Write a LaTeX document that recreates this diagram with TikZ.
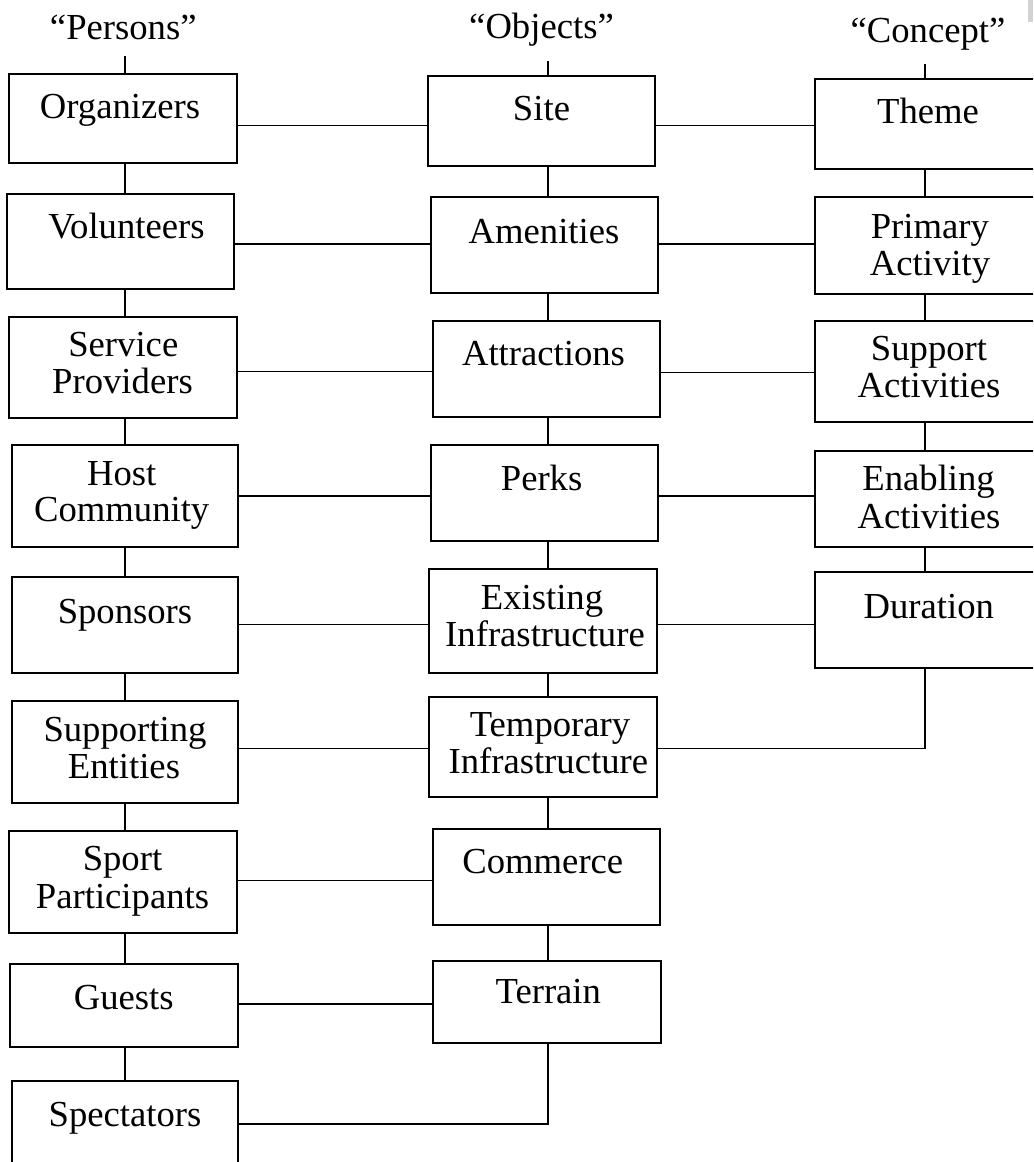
\documentclass[tikz,border=0pt]{standalone}
\usepackage{fontspec}
\setmainfont{Liberation Serif}
\usetikzlibrary{fit}
\tikzset{
  box/.style={draw, line width=1.4pt, rectangle, inner sep=0pt, outer sep=0pt},
  conn/.style={line width=0.8pt},
  lbl/.style={anchor=base, inner sep=0pt, outer sep=0pt, font=\fontsize{27.5}{30}\selectfont},
}
\newcommand\mkbox[5]{\node[box, fit={(#2,#3) (#4,#5)}] (#1) {};}
\newcommand\mktxt[4]{\node[lbl] (#1) at (#2,#3) {#4};}
\begin{document}
\begin{tikzpicture}[x=0.75pt, y=-0.75pt]
\clip (0,0) rectangle (1033,1162);
\fill[white] (0,0) rectangle (1033,1162);
\fill[gray!35] (1028,0) rectangle (1033,22);

% column guide coordinates
\coordinate (c1) at (125,0);
\coordinate (c2) at (548,0);
\coordinate (c3) at (925,0);
\coordinate (t1) at (125,55.7);
\coordinate (t2) at (548,61);
\coordinate (t3) at (925,64);

% headings
\mktxt{hP}{123.3}{39.3}{“Persons”}
\mktxt{hO}{541.5}{38.5}{“Objects”}
\mktxt{hC}{928}{42.3}{“Concept”}

% column 1 boxes
\mkbox{org}{9.3}{74}{237}{163.3}
\mkbox{vol}{7.3}{194}{234.3}{289.3}
\mkbox{ser}{9.3}{316.7}{236.7}{418.3}
\mkbox{host}{11.7}{445}{238.3}{546.7}
\mkbox{spo}{11.7}{577.3}{238.3}{673.3}
\mkbox{supp}{11.7}{700.7}{238.3}{802.7}
\mkbox{sport}{9.3}{830.7}{236.7}{932.7}
\mkbox{gue}{10}{964.3}{237.7}{1047.3}
\mkbox{spe}{11.7}{1081}{238.3}{1200}

\mktxt{org-t}{120}{118.3}{Organizers}
\mktxt{vol-t}{126.5}{239}{Volunteers}
\mktxt{ser-t1}{123.3}{356.7}{Service}
\mktxt{ser-t2}{122.5}{393.3}{Providers}
\mktxt{host-t1}{121.7}{485}{Host}
\mktxt{host-t2}{121.7}{521.7}{Community}
\mktxt{spo-t}{125}{623.3}{Sponsors}
\mktxt{supp-t1}{125}{741.7}{Supporting}
\mktxt{supp-t2}{124}{778.3}{Entities}
\mktxt{sport-t1}{122.5}{870}{Sport}
\mktxt{sport-t2}{122.5}{908.3}{Participants}
\mktxt{gue-t}{123.7}{1009}{Guests}
\mktxt{spe-t}{125}{1126}{Spectators}

% column 2 boxes
\mkbox{site}{427.7}{76}{654.7}{166}
\mkbox{amen}{431}{197.3}{658.4}{293.3}
\mkbox{attr}{433}{320.7}{660.4}{416.7}
\mkbox{perk}{431}{445}{658.4}{540.7}
\mkbox{exist}{429.3}{569.3}{656.7}{672.7}
\mkbox{temp}{429.3}{696.7}{656.7}{797.3}
\mkbox{comm}{432.7}{829}{660}{925}
\mkbox{terr}{433.3}{960.7}{660.7}{1043.3}

\mktxt{site-t}{541.5}{121}{Site}
\mktxt{amen-t}{544}{243.3}{Amenities}
\mktxt{attr-t}{543.5}{365}{Attractions}
\mktxt{perk-t}{541.6}{490}{Perks}
\mktxt{exist-t1}{542}{609.3}{Existing}
\mktxt{exist-t2}{545}{646}{Infrastructure}
\mktxt{temp-t1}{550}{736.7}{Temporary}
\mktxt{temp-t2}{548.3}{773.3}{Infrastructure}
\mktxt{comm-t}{542.8}{873.3}{Commerce}
\mktxt{terr-t}{548.3}{1003.3}{Terrain}

% column 3 boxes
\mkbox{theme}{814.7}{78.7}{1043}{169}
\mkbox{prim}{815.3}{197.3}{1043}{294}
\mkbox{supa}{815.3}{320.7}{1043}{422.3}
\mkbox{enab}{815.3}{450.7}{1043}{546.7}
\mkbox{dur}{815}{572.3}{1043}{668.3}

\mktxt{theme-t}{928}{123.3}{Theme}
\mktxt{prim-t1}{929.8}{238.3}{Primary}
\mktxt{prim-t2}{930}{275.7}{Activity}
\mktxt{supa-t1}{929}{360}{Support}
\mktxt{supa-t2}{929}{397.3}{Activities}
\mktxt{enab-t1}{928.6}{490}{Enabling}
\mktxt{enab-t2}{929}{528.3}{Activities}
\mktxt{dur-t}{928.8}{618.3}{Duration}

% row coordinates for horizontal connectors
\coordinate (r1) at (0,125.7);
\coordinate (r2) at (0,244);
\coordinate (r3) at (0,371.7);
\coordinate (r3b) at (0,372.3);
\coordinate (r4) at (0,496);
\coordinate (r5) at (0,624.3);
\coordinate (r6) at (0,748.5);
\coordinate (r7) at (0,880.5);
\coordinate (r8) at (0,1004);
\coordinate (r9) at (0,1124);

% vertical connectors
\draw[conn] (t1) -- (org.north -| c1);
\draw[conn] (org.south -| c1) -- (vol.north -| c1);
\draw[conn] (vol.south -| c1) -- (ser.north -| c1);
\draw[conn] (ser.south -| c1) -- (host.north -| c1);
\draw[conn] (host.south -| c1) -- (spo.north -| c1);
\draw[conn] (spo.south -| c1) -- (supp.north -| c1);
\draw[conn] (supp.south -| c1) -- (sport.north -| c1);
\draw[conn] (sport.south -| c1) -- (gue.north -| c1);
\draw[conn] (gue.south -| c1) -- (spe.north -| c1);

\draw[conn] (t2) -- (site.north -| c2);
\draw[conn] (site.south -| c2) -- (amen.north -| c2);
\draw[conn] (amen.south -| c2) -- (attr.north -| c2);
\draw[conn] (attr.south -| c2) -- (perk.north -| c2);
\draw[conn] (perk.south -| c2) -- (exist.north -| c2);
\draw[conn] (exist.south -| c2) -- (temp.north -| c2);
\draw[conn] (temp.south -| c2) -- (comm.north -| c2);
\draw[conn] (comm.south -| c2) -- (terr.north -| c2);

\draw[conn] (t3) -- (theme.north -| c3);
\draw[conn] (theme.south -| c3) -- (prim.north -| c3);
\draw[conn] (prim.south -| c3) -- (supa.north -| c3);
\draw[conn] (supa.south -| c3) -- (enab.north -| c3);
\draw[conn] (enab.south -| c3) -- (dur.north -| c3);

% horizontal connectors
\draw[conn] (org.east |- r1) -- (site.west |- r1);
\draw[conn] (site.east |- r1) -- (theme.west |- r1);
\draw[conn] (vol.east |- r2) -- (amen.west |- r2);
\draw[conn] (amen.east |- r2) -- (prim.west |- r2);
\draw[conn] (ser.east |- r3) -- (attr.west |- r3);
\draw[conn] (attr.east |- r3b) -- (supa.west |- r3b);
\draw[conn] (host.east |- r4) -- (perk.west |- r4);
\draw[conn] (perk.east |- r4) -- (enab.west |- r4);
\draw[conn] (spo.east |- r5) -- (exist.west |- r5);
\draw[conn] (exist.east |- r5) -- (dur.west |- r5);
\draw[conn] (supp.east |- r6) -- (temp.west |- r6);
\draw[conn] (temp.east |- r6) -- (r6 -| c3) -- (dur.south -| c3);
\draw[conn] (sport.east |- r7) -- (comm.west |- r7);
\draw[conn] (gue.east |- r8) -- (terr.west |- r8);
\draw[conn] (spe.east |- r9) -- (r9 -| c2) -- (terr.south -| c2);
\end{tikzpicture}
\end{document}
